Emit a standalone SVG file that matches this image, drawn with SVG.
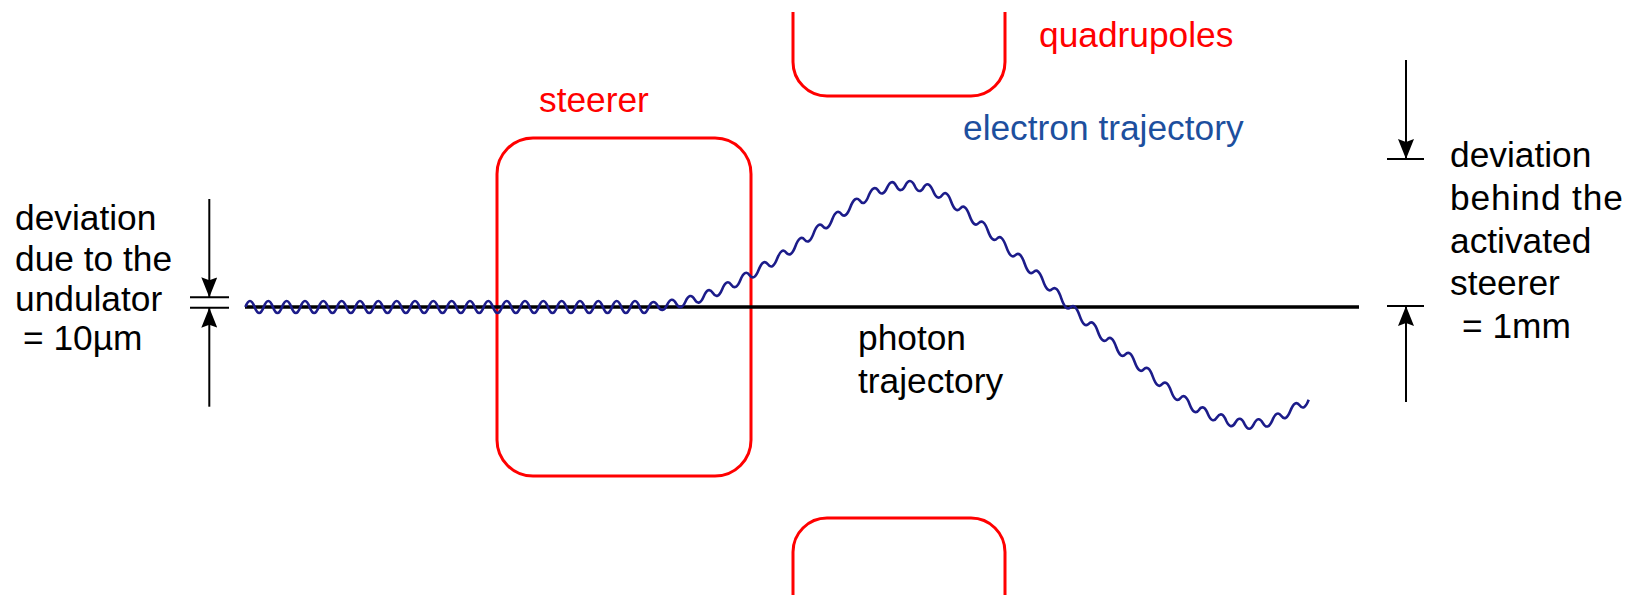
<svg xmlns="http://www.w3.org/2000/svg" width="1629" height="595" viewBox="0 0 1629 595">
<style>
.t{font-family:"Liberation Sans",Arial,sans-serif;font-size:35.3px;fill:#000}
.red{fill:#ff0000}
.blue{fill:#1d4f9e}
.mag{fill:none;stroke:#ff0000;stroke-width:3}
.dim{stroke:#000;stroke-width:2;fill:none}
</style>
<defs>
<marker id="ah" viewBox="0 0 20 16" refX="20" refY="8" markerWidth="20" markerHeight="16" markerUnits="userSpaceOnUse" orient="auto">
<path d="M0,0 L20,8 L0,16 L3,8 Z" fill="#000"/>
</marker>
</defs>
<rect width="1629" height="595" fill="#fff"/>
<g id="quadrupole-top"><path class="mag" d="M793,12 V62 A34,34 0 0 0 827,96 H971 A34,34 0 0 0 1005,62 V12"/></g>
<g id="quadrupole-bottom"><path class="mag" d="M793,595 V552 A34,34 0 0 1 827,518 H971 A34,34 0 0 1 1005,552 V595"/></g>
<g id="steerer"><rect class="mag" x="497" y="138" width="254" height="338" rx="36"/></g>
<g id="photon-trajectory"><line x1="245" y1="307" x2="1359" y2="307" stroke="#000" stroke-width="3.5"/></g>
<g id="electron-trajectory">
<path fill="none" stroke="#1c1c8a" stroke-width="2.6" stroke-linejoin="round" d="M245.4,307
q4.583,-12 9.167,0 q4.583,12 9.167,0 q4.583,-12 9.167,0 q4.583,12 9.167,0 q4.583,-12 9.167,0 q4.583,12 9.167,0 q4.583,-12 9.167,0 q4.583,12 9.167,0
q4.583,-12 9.167,0 q4.583,12 9.167,0 q4.583,-12 9.167,0 q4.583,12 9.167,0 q4.583,-12 9.167,0 q4.583,12 9.167,0 q4.583,-12 9.167,0 q4.583,12 9.167,0
q4.583,-12 9.167,0 q4.583,12 9.167,0 q4.583,-12 9.167,0 q4.583,12 9.167,0 q4.583,-12 9.167,0 q4.583,12 9.167,0 q4.583,-12 9.167,0 q4.583,12 9.167,0
q4.583,-12 9.167,0 q4.583,12 9.167,0 q4.583,-12 9.167,0 q4.583,12 9.167,0 q4.583,-12 9.167,0 q4.583,12 9.167,0 q4.583,-12 9.167,0 q4.583,12 9.167,0
q4.583,-12 9.167,0 q4.583,12 9.167,0 q4.583,-12 9.167,0 q4.583,12 9.167,0 q4.583,-12 9.167,0 q4.583,12 9.167,0 q4.583,-12 9.167,0 q4.583,12 9.167,0
q4.583,-12 9.167,0 q4.583,12 9.167,0 q4.583,-12 9.167,0 q4.583,12 9.167,0
Q653.3,297.6 657.9,306.1 Q662.5,314.5 667.1,304.9 Q671.7,295.3 676.2,303.6 Q680.8,311.7 685.4,301.7
Q690,291.6 694.6,299.4 Q699.2,307 703.7,296.5 Q708.3,285.8 712.9,293 Q717.5,300.2 722.1,289.4
Q726.7,278.1 731.2,284.7 Q735.8,291.4 740.4,280 Q745,268.6 749.6,275.2 Q754.2,281.5 758.7,269.8
Q763.3,258.1 767.9,264.3 Q772.5,270.6 777.1,258.8 Q781.7,246.7 786.2,252.6 Q790.8,258.4 795.4,246.2
Q800,234 804.6,239.7 Q809.2,245.4 813.7,233.1 Q818.3,220.8 822.9,226.4 Q827.5,232.1 832.1,219.7
Q836.7,207.8 841.2,213.8 Q845.8,219.4 850.4,207 Q855,195.2 859.6,200.3 Q864.2,207.5 868.7,195.6
Q873.3,184.4 877.9,190.1 Q882.5,197.9 887.1,187.6 Q891.7,177.7 896.2,185.8 Q900.8,194.6 905.4,185.3
Q910,176.5 914.6,185.7 Q919.2,195.5 923.7,187.3 Q928.3,179.9 932.9,190.5 Q937.5,201.9 942.1,195.2
Q946.7,189 951.2,201.7 Q955.8,214 960.4,208.3 Q965,203 969.6,215.7 Q974.2,228.4 978.7,223
Q983.3,217.9 987.9,230.7 Q992.5,243.6 997.1,238.5 Q1001.7,233.6 1006.2,246.7 Q1010.8,259.9 1015.4,255.1
Q1020,250.3 1024.6,263.5 Q1029.2,276.7 1033.7,271.9 Q1038.3,267.2 1042.9,280.4 Q1047.5,293.8 1052.1,289.1
Q1056.7,284.7 1061.2,298.2 Q1065.8,311.8 1070.4,307.4 Q1075,302.5 1079.6,315.6 Q1084.2,328.8 1088.7,323.9
Q1093.3,318.8 1097.9,331.7 Q1102.5,344.6 1107.1,339.5 Q1111.7,334.3 1116.2,347 Q1120.8,359.7 1125.4,354.3
Q1130,349.1 1134.6,361.8 Q1139.2,374.6 1143.7,369.3 Q1148.3,364.1 1152.9,376.9 Q1157.5,389.6 1162.1,384.2
Q1166.7,378.8 1171.2,391.4 Q1175.8,403.8 1180.4,398.2 Q1185,392.2 1189.6,404.2 Q1194.2,416.2 1198.7,410.2
Q1203.3,403.1 1207.9,413.9 Q1212.5,424.6 1217.1,417.3 Q1221.7,410 1226.2,420.7 Q1230.8,430.6 1235.4,422.5
Q1240,414.3 1244.6,424.1 Q1249.2,433.3 1253.7,424.4 Q1258.3,414.8 1262.9,423.1 Q1267.5,431 1272.1,420.9
Q1276.7,409.4 1281.2,415.8 Q1285.8,422.3 1290.4,410.8 Q1295,399.1 1299.6,405.3 Q1304.2,411.6 1308.7,399.8"/>
</g>
<g id="connectors">
<line class="dim" x1="209.3" y1="199" x2="209.3" y2="297.3" marker-end="url(#ah)"/>
<line class="dim" x1="209.3" y1="406.7" x2="209.3" y2="307.7" marker-end="url(#ah)"/>
<line class="dim" x1="190" y1="297.3" x2="229" y2="297.3"/>
<line class="dim" x1="190" y1="307.7" x2="229" y2="307.7"/>
<line class="dim" x1="1406" y1="60" x2="1406" y2="159" marker-end="url(#ah)"/>
<line class="dim" x1="1406" y1="402" x2="1406" y2="306" marker-end="url(#ah)"/>
<line class="dim" x1="1387" y1="159" x2="1424" y2="159"/>
<line class="dim" x1="1387" y1="306" x2="1424" y2="306"/>
</g>
<g id="label-left">
<text class="t" x="15" y="230">deviation</text>
<text class="t" x="15" y="271">due to the</text>
<text class="t" x="15" y="311">undulator</text>
<text class="t" x="23" y="350">= 10µm</text>
</g>
<g id="label-right">
<text class="t" x="1450" y="167">deviation</text>
<text class="t" x="1450" y="210" textLength="173" lengthAdjust="spacing">behind the</text>
<text class="t" x="1450" y="253">activated</text>
<text class="t" x="1450" y="295">steerer</text>
<text class="t" x="1462" y="338">= 1mm</text>
</g>
<g id="label-steerer"><text class="t red" x="539" y="112">steerer</text></g>
<g id="label-quadrupoles"><text class="t red" x="1039" y="47">quadrupoles</text></g>
<g id="label-electron"><text class="t blue" x="963" y="140">electron trajectory</text></g>
<g id="label-photon">
<text class="t" x="858" y="350">photon</text>
<text class="t" x="858" y="393">trajectory</text>
</g>
</svg>
